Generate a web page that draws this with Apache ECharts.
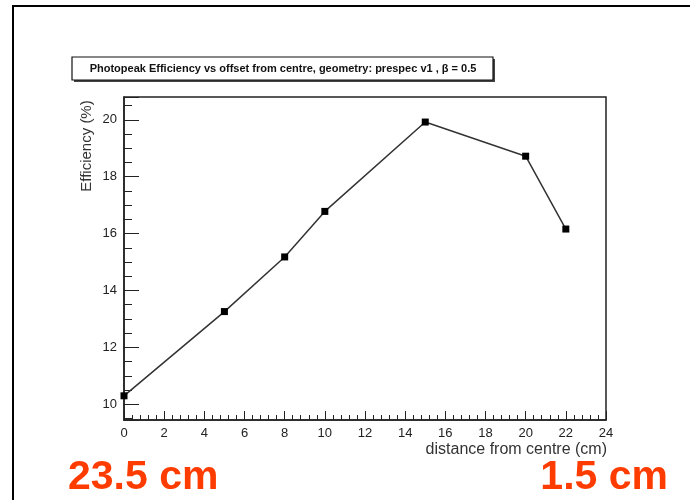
<!DOCTYPE html>
<html>
<head>
<meta charset="utf-8">
<script src="https://cdn.jsdelivr.net/npm/echarts@6/dist/echarts.min.js"></script>
<style>
  html, body { margin: 0; padding: 0; background: #fff; }
  #chart { width: 690px; height: 500px; }
</style>
</head>
<body>
<div id="chart"></div>
<script>
'use strict';

// distance from centre (cm) and efficiency (%)
var distances = [0, 5, 8, 10, 15, 20, 22];
var efficiency = [10.3, 13.26, 15.18, 16.78, 19.92, 18.72, 16.16];
var xTicks = [0, 2, 4, 6, 8, 10, 12, 14, 16, 18, 20, 22, 24];
var yTicks = [10, 12, 14, 16, 18, 20];
var plotTitle = 'Photopeak Efficiency vs offset from centre, geometry: prespec v1 , \u03b2 = 0.5';
var cornerLabels = ['23.5 cm', '1.5 cm'];

var points = distances.map(function (d, i) {
  return [d, efficiency[i]];
});

var font = '"Liberation Sans", Arial, sans-serif';
var labelStyle = { color: '#222', fontSize: 13, fontFamily: font };

var option = {
  backgroundColor: '#fff',
  animation: false,
  grid: {
    left: 124,
    top: 97,
    right: 84,
    bottom: 80,
    show: true,
    borderColor: '#222',
    borderWidth: 1.5
  },
  xAxis: {
    type: 'value',
    min: xTicks[0],
    max: xTicks[xTicks.length - 1],
    interval: 2,
    axisLine: { lineStyle: { color: '#222', width: 1.5 } },
    axisTick: { inside: true, length: 9, lineStyle: { color: '#222' } },
    minorTick: { show: true, splitNumber: 5, length: 5, lineStyle: { color: '#222' } },
    splitLine: { show: false },
    axisLabel: Object.assign({ margin: 7 }, labelStyle)
  },
  yAxis: {
    type: 'value',
    min: 9.45,
    max: 20.8,
    splitNumber: 6,
    axisLine: { show: true, lineStyle: { color: '#222', width: 1.5 } },
    axisTick: { show: true, inside: true, length: 15, lineStyle: { color: '#222' } },
    minorTick: { show: true, splitNumber: 4, length: 8, lineStyle: { color: '#222' } },
    splitLine: { show: false },
    axisLabel: Object.assign({
      margin: 7,
      showMinLabel: false,
      showMaxLabel: false,
      formatter: function (v) {
        return yTicks.indexOf(v) >= 0 ? String(v) : '';
      }
    }, labelStyle)
  },
  series: [{
    type: 'line',
    data: points,
    symbol: 'rect',
    symbolSize: 7,
    itemStyle: { color: '#000' },
    lineStyle: { color: '#333', width: 1.5 }
  }],
  graphic: [
    // outer frame
    { type: 'polyline', shape: { points: [[13, 500], [13, 6], [690, 6]] },
      style: { stroke: '#000', lineWidth: 2, fill: null } },
    // title box with shadow
    { type: 'rect', shape: { x: 74, y: 59, width: 421, height: 23 },
      style: { fill: '#444' } },
    { type: 'rect', shape: { x: 72, y: 57, width: 421, height: 23 },
      style: { fill: '#fff', stroke: '#111', lineWidth: 1.2 } },
    { type: 'text', x: 283, y: 69,
      style: { text: plotTitle, fill: '#111', font: 'bold 11px ' + font,
        textAlign: 'center', textVerticalAlign: 'middle' } },
    // axis titles
    { type: 'text', x: 87, y: 146, rotation: Math.PI / 2,
      style: { text: 'Efficiency (%)', fill: '#333', font: '15px ' + font,
        textAlign: 'center', textVerticalAlign: 'middle' } },
    { type: 'text', x: 607, y: 450,
      style: { text: 'distance from centre (cm)', fill: '#333', font: '16px ' + font,
        textAlign: 'right', textVerticalAlign: 'middle' } },
    // red annotations
    { type: 'text', x: 68, y: 478,
      style: { text: cornerLabels[0], fill: '#ff3c00', font: 'bold 41px ' + font,
        textAlign: 'left', textVerticalAlign: 'middle' } },
    { type: 'text', x: 668, y: 478,
      style: { text: cornerLabels[1], fill: '#ff3c00', font: 'bold 41px ' + font,
        textAlign: 'right', textVerticalAlign: 'middle' } }
  ]
};

var myChart = echarts.init(document.getElementById('chart'));
myChart.setOption(option);
</script>
</body>
</html>
